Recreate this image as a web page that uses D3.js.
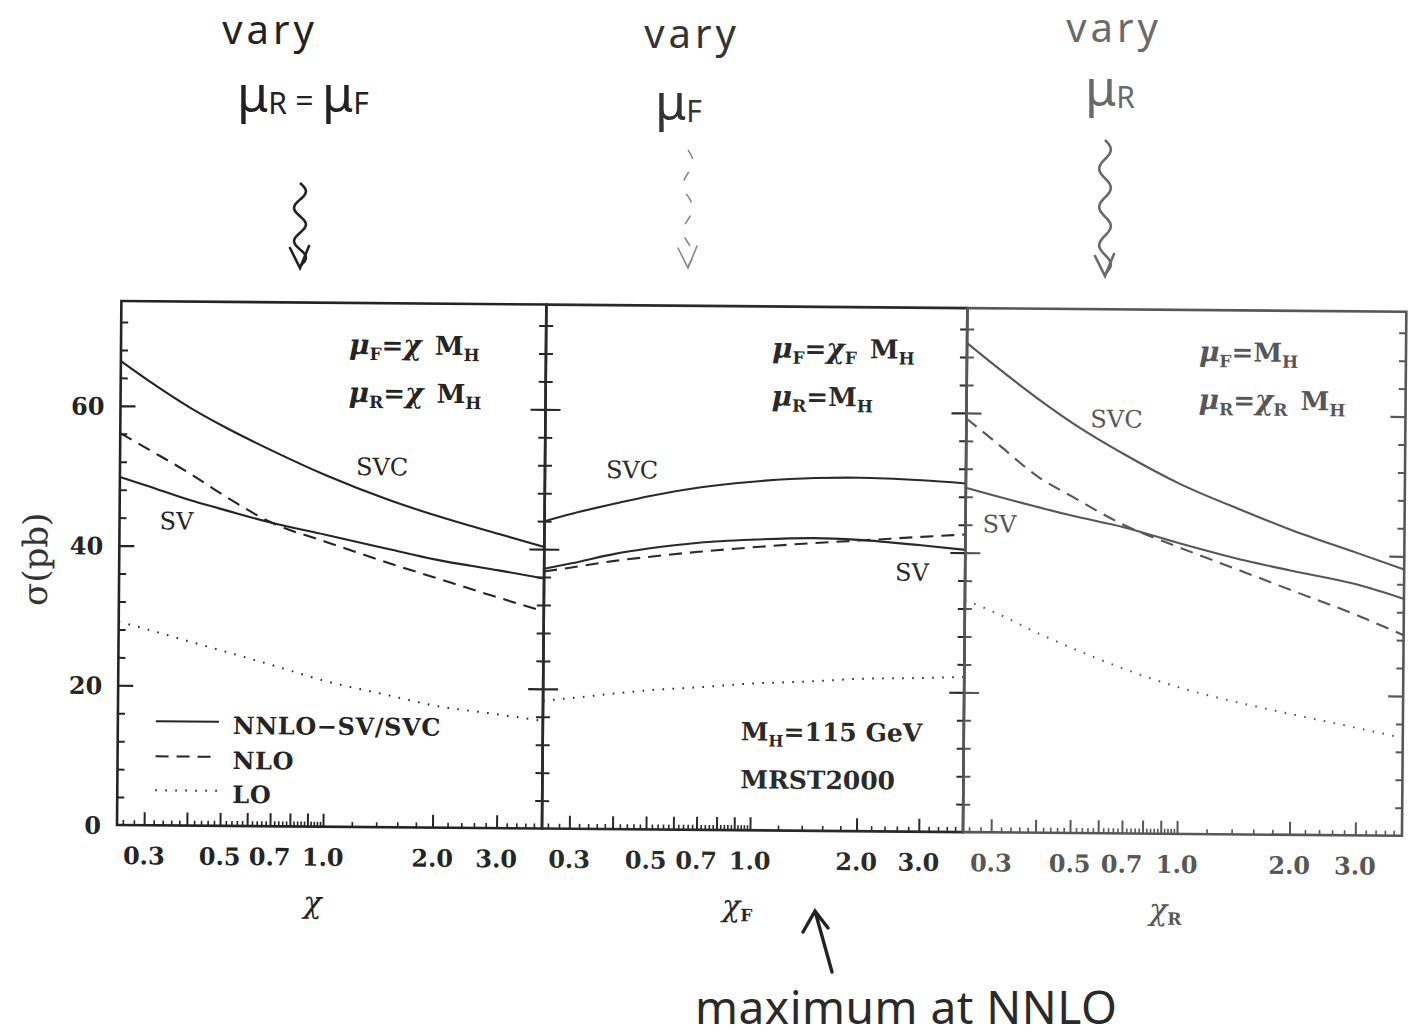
<!DOCTYPE html>
<html>
<head>
<meta charset="utf-8">
<script src="https://cdn.jsdelivr.net/npm/d3@7"></script>
<style>
  body { margin: 0; background: #fff; }
  svg { display: block; }
</style>
</head>
<body>
<div id="chart"></div>
<script>
// scale factor chi at which the curves were read
const chi = [0.25, 0.3, 0.4, 0.5, 0.7, 1.0, 1.5, 2.0, 3.0, 4.0];

// panel 1: muF = muR = chi MH
const svc1 = [66.4, 63.7, 59.8, 57.2, 53.7, 50.3, 46.8, 44.7, 42.1, 40.3];
const sv1  = [49.8, 48.6, 46.6, 45.3, 43.4, 41.8, 39.8, 38.4, 36.9, 35.8];
const nlo1 = [56.1, 53.9, 50.4, 47.4, 43.4, 40.8, 37.8, 35.8, 33.0, 31.1];
const lo1  = [29.1, 28.1, 26.4, 25.1, 23.1, 20.9, 18.9, 17.5, 16.3, 15.4];

// panel 2: muF = chiF MH, muR = MH
const svc2 = [44.0, 45.1, 46.6, 47.7, 49.0, 49.9, 50.5, 50.6, 50.3, 49.9];
const sv2  = [37.2, 38.0, 39.4, 40.2, 41.1, 41.6, 41.9, 41.7, 41.0, 40.4];
const nlo2 = [36.8, 37.4, 38.4, 39.0, 39.8, 40.5, 41.2, 41.6, 42.2, 42.6];
const lo2  = [18.3, 18.7, 19.4, 19.9, 20.4, 21.0, 21.4, 21.8, 22.0, 22.2];

// panel 3: muF = MH, muR = chiR MH
const svc3 = [70.0, 66.8, 62.0, 58.6, 54.2, 50.1, 46.2, 43.6, 40.4, 38.1];
const sv3  = [49.3, 48.2, 46.6, 45.4, 43.8, 41.6, 39.2, 37.8, 35.9, 33.9];
const nlo3 = [59.2, 56.0, 50.9, 48.1, 44.1, 41.0, 37.5, 35.0, 31.5, 28.7];
const lo3  = [33.2, 31.6, 28.6, 26.5, 23.6, 21.0, 18.7, 17.3, 15.4, 14.0];

const xTickLabels = [0.3, 0.5, 0.7, 1.0, 2.0, 3.0];
const yTickLabels = [0, 20, 40, 60];
const legendLabels = ['NNLO\u2212SV/SVC', 'NLO', 'LO'];

const W = 1418, H = 1036;
const serif = "'DejaVu Serif', serif";
const hand = "'Noto Sans', sans-serif";

const svg = d3.select('#chart').append('svg')
  .attr('width', W)
  .attr('height', H)
  .attr('viewBox', `0 0 ${W} ${H}`);
svg.append('rect').attr('width', W).attr('height', H).attr('fill', '#fff');

// the scan is slightly tilted
const plot = svg.append('g').attr('transform', 'rotate(0.48, 117, 825)');

const y = d3.scaleLinear().domain([0, 75]).range([825, 301]);

const styles = [
  {key: 'svc', dash: null},
  {key: 'sv', dash: null},
  {key: 'nlo', dash: '13,8'},
  {key: 'lo', dash: '1.6,8.4'}
];

const panels = [
  {svc: svc1, sv: sv1, nlo: nlo1, lo: lo1, range: [117, 323, 542], ink: '#242424',
   mu: [[['μ', 'it'], ['F', 'sub'], ['=', 'rm'], ['χ', 'it'], ['\u2002M', 'rm'], ['H', 'sub']],
        [['μ', 'it'], ['R', 'sub'], ['=', 'rm'], ['χ', 'it'], ['\u2002M', 'rm'], ['H', 'sub']]],
   muX: 345, svcPos: [353, 473], svPos: [157, 529], title: ['χ', ''], titleX: 313},
  {svc: svc2, sv: sv2, nlo: nlo2, lo: lo2, range: [542, 750, 963], ink: '#2a2a2a',
   mu: [[['μ', 'it'], ['F', 'sub'], ['=', 'rm'], ['χ', 'it'], ['F', 'sub'], ['\u2002M', 'rm'], ['H', 'sub']],
        [['μ', 'it'], ['R', 'sub'], ['=M', 'rm'], ['H', 'sub']]],
   muX: 768, svcPos: [603, 474], svPos: [893, 574], title: ['χ', 'F'], titleX: 738},
  {svc: svc3, sv: sv3, nlo: nlo3, lo: lo3, range: [963, 1177, 1402], ink: '#575757',
   mu: [[['μ', 'it'], ['F', 'sub'], ['=M', 'rm'], ['H', 'sub']],
        [['μ', 'it'], ['R', 'sub'], ['=', 'rm'], ['χ', 'it'], ['R', 'sub'], ['\u2002M', 'rm'], ['H', 'sub']]],
   muX: 1195, svcPos: [1087, 419], svPos: [980, 525], title: ['χ', 'R'], titleX: 1166}
];

const yMinor = d3.range(4, 75, 4).filter(v => v % 20 !== 0);
const xMajor = [0.3, 0.4, 0.5, 0.6, 0.7, 0.8, 0.9, 1.0, 2.0, 3.0];
const xMinor = d3.range(13, 50).map(k => k * 0.02).filter(v => Math.round(v * 100) % 10 !== 0)
  .concat(d3.range(6, 20).map(k => k * 0.2).filter(v => Math.abs(v - 2) > 1e-6 && Math.abs(v - 3) > 1e-6));

function drawAxis(g, axis, ink, width) {
  g.call(axis);
  g.select('.domain').remove();
  g.selectAll('.tick line').attr('stroke', ink).attr('stroke-width', width);
  g.selectAll('.tick text').remove();
}

function mathText(g, x, yy, parts, ink) {
  const t = g.append('text')
    .attr('x', x).attr('y', yy)
    .attr('font-family', serif)
    .attr('font-weight', 'bold')
    .attr('font-size', 26)
    .attr('fill', ink);
  let shifted = false;
  parts.forEach(([s, k]) => {
    const ts = t.append('tspan').text(s);
    if (k === 'sub') {
      ts.attr('font-size', 17).attr('dy', shifted ? 0 : 6);
      shifted = true;
    } else {
      if (shifted) ts.attr('dy', -6);
      shifted = false;
      if (k === 'it') ts.attr('font-style', 'italic').attr('font-size', 28);
    }
  });
}

panels.forEach((p, pi) => {
  const x = d3.scaleLog().domain([0.25, 1, 4]).range(p.range);
  const g = plot.append('g');
  const [x0, , x1] = p.range;

  // frame
  g.append('rect')
    .attr('x', x0).attr('y', y(75))
    .attr('width', x1 - x0).attr('height', y(0) - y(75))
    .attr('fill', 'none').attr('stroke', p.ink).attr('stroke-width', 2.6);

  // y ticks, inward on both sides
  drawAxis(g.append('g').attr('transform', `translate(${x0},0)`),
    d3.axisRight(y).tickValues([20, 40, 60]).tickSize(15), p.ink, 2.2);
  drawAxis(g.append('g').attr('transform', `translate(${x0},0)`),
    d3.axisRight(y).tickValues(yMinor).tickSize(7), p.ink, 2);
  drawAxis(g.append('g').attr('transform', `translate(${x1},0)`),
    d3.axisLeft(y).tickValues([20, 40, 60]).tickSize(15), p.ink, 2.2);
  drawAxis(g.append('g').attr('transform', `translate(${x1},0)`),
    d3.axisLeft(y).tickValues(yMinor).tickSize(7), p.ink, 2);

  // x ticks, pointing up
  drawAxis(g.append('g').attr('transform', `translate(0,${y(0)})`),
    d3.axisTop(x).tickValues(xMajor).tickSize(13), p.ink, 2);
  drawAxis(g.append('g').attr('transform', `translate(0,${y(0)})`),
    d3.axisTop(x).tickValues(xMinor).tickSize(5), p.ink, 1.6);

  g.selectAll('.xlab')
    .data(xTickLabels)
    .enter()
    .append('text')
    .attr('x', d => x(d))
    .attr('y', 864)
    .attr('text-anchor', 'middle')
    .attr('font-family', serif)
    .attr('font-weight', 'bold')
    .attr('font-size', 24)
    .attr('fill', p.ink)
    .text(d => d.toFixed(1));

  // curves
  const line = d3.line()
    .x((d, i) => x(chi[i]))
    .y(d => y(d))
    .curve(d3.curveMonotoneX);
  styles.forEach(s => {
    g.append('path')
      .datum(p[s.key])
      .attr('d', line)
      .attr('fill', 'none')
      .attr('stroke', p.ink)
      .attr('stroke-width', s.key === 'lo' ? 2 : 2.1)
      .attr('stroke-dasharray', s.dash);
  });

  // annotations inside the panel
  mathText(g, p.muX, 352, p.mu[0], p.ink);
  mathText(g, p.muX, 400, p.mu[1], p.ink);
  g.append('text').attr('x', p.svcPos[0]).attr('y', p.svcPos[1])
    .attr('font-family', serif).attr('font-size', 24).attr('fill', p.ink).text('SVC');
  g.append('text').attr('x', p.svPos[0]).attr('y', p.svPos[1])
    .attr('font-family', serif).attr('font-size', 24).attr('fill', p.ink).text('SV');

  // axis title
  const tt = g.append('text')
    .attr('x', p.titleX).attr('y', 911)
    .attr('text-anchor', 'middle')
    .attr('font-family', serif)
    .attr('font-size', 30)
    .attr('fill', p.ink);
  tt.append('tspan').attr('font-style', 'italic').text(p.title[0]);
  if (p.title[1]) {
    tt.append('tspan').attr('font-size', 17).attr('font-weight', 'bold').attr('dy', 5).text(p.title[1]);
  }

  if (pi === 0) {
    g.selectAll('.ylab')
      .data(yTickLabels)
      .enter()
      .append('text')
      .attr('x', 101)
      .attr('y', d => y(d) + 9)
      .attr('text-anchor', 'end')
      .attr('font-family', serif)
      .attr('font-weight', 'bold')
      .attr('font-size', 24)
      .attr('fill', p.ink)
      .text(d => d);

    g.append('text')
      .attr('transform', 'translate(45,560) rotate(-90)')
      .attr('text-anchor', 'middle')
      .attr('font-family', serif)
      .attr('font-size', 34)
      .attr('fill', '#333')
      .text('σ(pb)');

    // legend
    const leg = g.append('g');
    legendLabels.forEach((lab, i) => {
      const ly = [721, 756, 790][i];
      leg.append('line')
        .attr('x1', 155).attr('x2', 218)
        .attr('y1', ly).attr('y2', ly)
        .attr('stroke', p.ink).attr('stroke-width', 2)
        .attr('stroke-dasharray', styles[i + 1].dash);
      leg.append('text')
        .attr('x', 232).attr('y', ly + 12)
        .attr('font-family', serif)
        .attr('font-weight', 'bold')
        .attr('font-size', 24)
        .attr('letter-spacing', 0.6)
        .attr('fill', p.ink)
        .text(lab);
    });
  }

  if (pi === 1) {
    const mh = g.append('text').attr('x', 740).attr('y', 735)
      .attr('font-family', serif).attr('font-weight', 'bold').attr('font-size', 25).attr('fill', p.ink);
    mh.append('tspan').text('M');
    mh.append('tspan').attr('font-size', 16).attr('dy', 6).text('H');
    mh.append('tspan').attr('dy', -6).text('=115 GeV');
    g.append('text').attr('x', 740).attr('y', 783)
      .attr('font-family', serif).attr('font-weight', 'bold').attr('font-size', 25).attr('fill', p.ink)
      .text('MRST2000');
  }
});

// handwritten notes above and below
function squiggle(cx, y0, y1, amp, waves) {
  const pts = d3.range(0, 1.0001, 0.02).map(t => [cx + amp * Math.sin(t * waves * 2 * Math.PI), y0 + t * (y1 - y0)]);
  return d3.line().curve(d3.curveBasis)(pts);
}

const notes = [
  {cx: 270, vary: 44, muX: 237, muY: 112, mu: [['μ', ''], ['R', 's'], [' = ', ''], ['μ', ''], ['F', 's']], ink: '#222',
   sq: [300, 183, 266, 6, 2.5], faint: false},
  {cx: 692, vary: 48, muX: 655, muY: 120, mu: [['μ', ''], ['F', 's']], ink: '#333',
   sq: [688, 150, 266, 5, 2.5], faint: true},
  {cx: 1114, vary: 42, muX: 1085, muY: 106, mu: [['μ', ''], ['R', 's']], ink: '#6a6a6a',
   sq: [1105, 140, 274, 6, 3.5], faint: false}
];

notes.forEach(n => {
  svg.append('text')
    .attr('x', n.cx).attr('y', n.vary)
    .attr('text-anchor', 'middle')
    .attr('font-family', hand)
    .attr('font-size', 40)
    .attr('letter-spacing', 4)
    .attr('fill', n.ink)
    .text('vary');
  const mt = svg.append('text')
    .attr('x', n.muX).attr('y', n.muY)
    .attr('font-family', hand)
    .attr('font-size', 48)
    .attr('fill', n.ink);
  let sub = false;
  n.mu.forEach(([s, k]) => {
    const ts = mt.append('tspan').text(s);
    if (k === 's') { ts.attr('font-size', 30).attr('dy', sub ? 0 : 2); sub = true; }
    else { ts.attr('font-size', s === 'μ' ? 50 : 32); if (sub) ts.attr('dy', -2); sub = false; }
  });
  const [sx, sy0, sy1, amp, waves] = n.sq;
  svg.append('path')
    .attr('d', squiggle(sx, sy0, sy1, amp, waves))
    .attr('fill', 'none')
    .attr('stroke', n.faint ? '#888' : n.ink)
    .attr('stroke-width', n.faint ? 1.6 : 2.6)
    .attr('stroke-dasharray', n.faint ? '10,14' : null);
  svg.append('path')
    .attr('d', `M${sx - 10},${sy1 - 18} L${sx},${sy1 + 2} L${sx + 9},${sy1 - 20}`)
    .attr('fill', 'none')
    .attr('stroke', n.faint ? '#888' : n.ink)
    .attr('stroke-width', n.faint ? 1.6 : 2.6)
    .attr('stroke-linecap', 'round');
});

svg.append('path')
  .attr('d', 'M832,972 L815,911 M803,932 L815,911 L828,928')
  .attr('fill', 'none')
  .attr('stroke', '#222')
  .attr('stroke-width', 3.4)
  .attr('stroke-linecap', 'round');
svg.append('text')
  .attr('x', 695).attr('y', 1024)
  .attr('font-family', hand)
  .attr('font-size', 46)
  .attr('letter-spacing', 0.5)
  .attr('fill', '#2a2a2a')
  .text('maximum at NNLO');
</script>
</body>
</html>
